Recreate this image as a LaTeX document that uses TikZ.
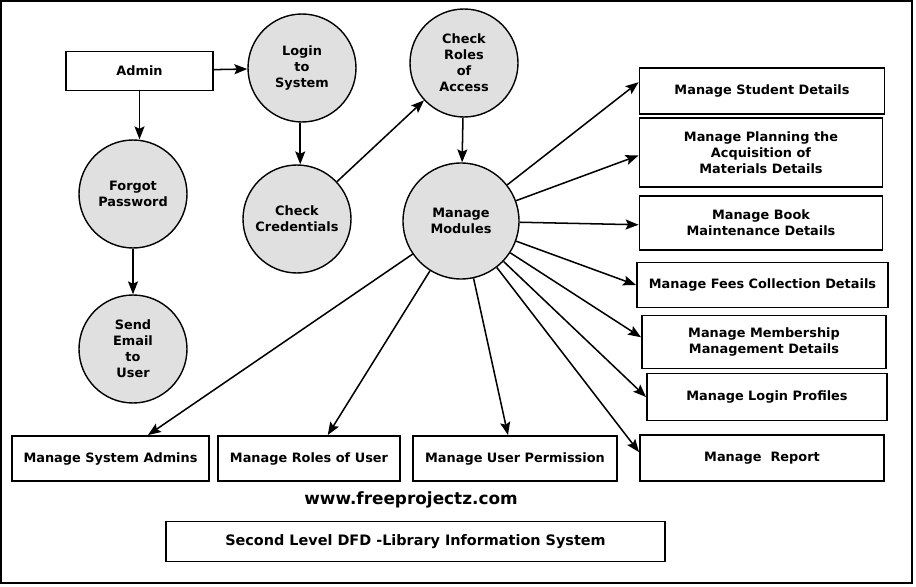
\documentclass[tikz,border=0pt]{standalone}
\usepackage{fontspec}
\setmainfont{DejaVu Sans}
\usetikzlibrary{arrows.meta}
\definecolor{procfill}{HTML}{E0E0E0}
\newcommand{\px}{0.03cm}

\begin{document}
\begin{tikzpicture}[x=\px, y=-\px,
    font=\bfseries\fontsize{11}{13.6}\selectfont,
    rect/.style 2 args={draw, rectangle, line width=1.6pt, minimum width=#1*\px, minimum height=#2*\px, inner sep=0pt, align=center},
    circ/.style={draw, circle, fill=procfill, line width=1.2pt, minimum size=108*\px, inner sep=0pt, align=center},
    flow/.style={-{Stealth[length=11pt, width=8.5pt, inset=2pt]}, line width=1.3pt}]
    \useasboundingbox (0,0) rectangle (916,587);
    \draw[line width=1.7pt] (1,1) rectangle (912,583);

    % Admin and login processes
    \node[rect={147}{39}] (ext-admin) at (139.5,71) {Admin};
    \node[circ] (proc-login) at (302,68) {Login\\to\\System};
    \node[circ] (proc-roles) at (464,63) {Check\\Roles\\of\\Access};
    \node[circ] (proc-forgot) at (133,194) {Forgot\\Password};
    \node[circ] (proc-cred) at (297,219) {Check\\Credentials};
    \node[circ] (proc-email) at (133,349) {Send\\Email\\to\\User};
    \node[circ, minimum size=116*\px] (proc-modules) at (461,221) {Manage\\Modules};

    % Right column
    \node[rect={245}{46}] (ent-student) at (762,91) {Manage Student Details};
    \node[rect={243}{69}] (ent-planning) at (761,152.5) {Manage Planning the\\Acquisition of\\Materials Details};
    \node[rect={243}{54}] (ent-book) at (761,223) {Manage Book\\Maintenance Details};
    \node[rect={251}{45}] (ent-fees) at (762.5,285) {Manage Fees Collection Details};
    \node[rect={244}{53}] (ent-member) at (764,342) {Manage Membership\\Management Details};
    \node[rect={240}{47}] (ent-login) at (767,397) {Manage Login Profiles};
    \node[rect={244}{46}] (ent-report) at (762,458) {Manage\ \ Report};

    % Bottom row
    \node[rect={197}{45}] (ent-sysadm) at (110.5,458.5) {Manage System Admins};
    \node[rect={182}{45}] (ent-roles) at (309,458.5) {Manage Roles of User};
    \node[rect={204}{45}] (ent-perm) at (515,458.5) {Manage User Permission};

    \node[font=\bfseries\fontsize{14.4}{17}\selectfont] (site) at (411,500) {www.freeprojectz.com};
    \node[rect={499}{40}, font=\bfseries\fontsize{12.3}{14}\selectfont] (title) at (415.5,541.5) {Second Level DFD -Library Information System};

    % Flows
    \draw[flow] (ext-admin) -- (proc-login);
    \draw[flow] (ext-admin.south) -- (ext-admin.south |- proc-forgot.north);
    \draw[flow] (proc-forgot) -- (proc-email);
    \draw[flow] ([xshift=-1.5pt]proc-login.south) -- ([xshift=-1.5pt]proc-login.south |- proc-cred.north);
    \draw[flow] (proc-cred) -- (proc-roles);
    \draw[flow] (proc-roles) -- (proc-modules);

    \draw[flow] (proc-modules) -- ([yshift=7.5pt]ent-student.west);
    \draw[flow] (proc-modules) -- ([yshift=-2.5pt]ent-planning.west);
    \draw[flow] (proc-modules) -- ([yshift=-1.5pt]ent-book.west);
    \draw[flow] (proc-modules) -- (ent-fees.west);
    \draw[flow] (proc-modules) -- ([yshift=4pt]ent-member.west);
    \draw[flow] (proc-modules) -- (ent-login.west);
    \draw[flow] (proc-modules) -- ([yshift=5pt]ent-report.west);
    \draw[flow] (proc-modules) -- ([xshift=32pt]ent-sysadm.north);
    \draw[flow] (proc-modules) -- ([xshift=16pt]ent-roles.north);
    \draw[flow] (proc-modules) -- ([xshift=-6pt]ent-perm.north);

\end{tikzpicture}
\end{document}
